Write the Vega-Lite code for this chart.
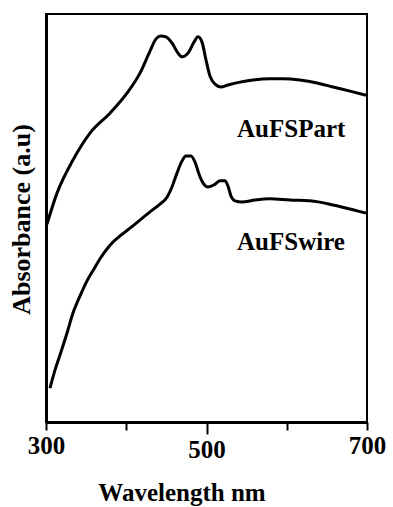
{
  "$schema": "https://vega.github.io/schema/vega-lite/v6.json",
  "width": 321,
  "height": 408,
  "autosize": "none",
  "padding": {"left": 46, "top": 14, "right": 26, "bottom": 85},
  "background": "white",
  "config": {
    "view": {"stroke": "black", "strokeWidth": 2},
    "font": "Liberation Serif"
  },
  "datasets": {
    "curves": [
      {"series": "AuFSPart", "wl": 301.2, "abs": 0.485},
      {"series": "AuFSPart", "wl": 313.7, "abs": 0.561},
      {"series": "AuFSPart", "wl": 333.6, "abs": 0.642},
      {"series": "AuFSPart", "wl": 354.8, "abs": 0.708},
      {"series": "AuFSPart", "wl": 379.7, "abs": 0.757},
      {"series": "AuFSPart", "wl": 400.9, "abs": 0.806},
      {"series": "AuFSPart", "wl": 417.1, "abs": 0.855},
      {"series": "AuFSPart", "wl": 429.6, "abs": 0.909},
      {"series": "AuFSPart", "wl": 437.1, "abs": 0.939},
      {"series": "AuFSPart", "wl": 443.3, "abs": 0.946},
      {"series": "AuFSPart", "wl": 449.5, "abs": 0.944},
      {"series": "AuFSPart", "wl": 457.0, "abs": 0.929},
      {"series": "AuFSPart", "wl": 464.5, "abs": 0.904},
      {"series": "AuFSPart", "wl": 469.5, "abs": 0.895},
      {"series": "AuFSPart", "wl": 477.0, "abs": 0.904},
      {"series": "AuFSPart", "wl": 484.4, "abs": 0.931},
      {"series": "AuFSPart", "wl": 489.4, "abs": 0.944},
      {"series": "AuFSPart", "wl": 494.4, "abs": 0.931},
      {"series": "AuFSPart", "wl": 499.4, "abs": 0.887},
      {"series": "AuFSPart", "wl": 504.3, "abs": 0.848},
      {"series": "AuFSPart", "wl": 510.6, "abs": 0.828},
      {"series": "AuFSPart", "wl": 518.0, "abs": 0.821},
      {"series": "AuFSPart", "wl": 526.8, "abs": 0.826},
      {"series": "AuFSPart", "wl": 541.7, "abs": 0.833},
      {"series": "AuFSPart", "wl": 558.0, "abs": 0.838},
      {"series": "AuFSPart", "wl": 579.0, "abs": 0.841},
      {"series": "AuFSPart", "wl": 595.3, "abs": 0.841},
      {"series": "AuFSPart", "wl": 616.5, "abs": 0.838},
      {"series": "AuFSPart", "wl": 637.7, "abs": 0.831},
      {"series": "AuFSPart", "wl": 657.6, "abs": 0.821},
      {"series": "AuFSPart", "wl": 678.8, "abs": 0.811},
      {"series": "AuFSPart", "wl": 698.7, "abs": 0.801},
      {"series": "AuFSwire", "wl": 305.0, "abs": 0.083},
      {"series": "AuFSwire", "wl": 311.2, "abs": 0.127},
      {"series": "AuFSwire", "wl": 317.4, "abs": 0.164},
      {"series": "AuFSwire", "wl": 326.2, "abs": 0.218},
      {"series": "AuFSwire", "wl": 333.6, "abs": 0.267},
      {"series": "AuFSwire", "wl": 342.4, "abs": 0.309},
      {"series": "AuFSwire", "wl": 351.1, "abs": 0.346},
      {"series": "AuFSwire", "wl": 359.8, "abs": 0.375},
      {"series": "AuFSwire", "wl": 367.3, "abs": 0.400},
      {"series": "AuFSwire", "wl": 376.0, "abs": 0.424},
      {"series": "AuFSwire", "wl": 383.5, "abs": 0.441},
      {"series": "AuFSwire", "wl": 392.2, "abs": 0.456},
      {"series": "AuFSwire", "wl": 404.7, "abs": 0.475},
      {"series": "AuFSwire", "wl": 417.1, "abs": 0.495},
      {"series": "AuFSwire", "wl": 429.6, "abs": 0.515},
      {"series": "AuFSwire", "wl": 442.0, "abs": 0.534},
      {"series": "AuFSwire", "wl": 450.8, "abs": 0.551},
      {"series": "AuFSwire", "wl": 457.0, "abs": 0.576},
      {"series": "AuFSwire", "wl": 463.2, "abs": 0.610},
      {"series": "AuFSwire", "wl": 469.5, "abs": 0.640},
      {"series": "AuFSwire", "wl": 474.4, "abs": 0.652},
      {"series": "AuFSwire", "wl": 480.7, "abs": 0.652},
      {"series": "AuFSwire", "wl": 485.7, "abs": 0.637},
      {"series": "AuFSwire", "wl": 490.6, "abs": 0.608},
      {"series": "AuFSwire", "wl": 495.6, "abs": 0.586},
      {"series": "AuFSwire", "wl": 501.9, "abs": 0.576},
      {"series": "AuFSwire", "wl": 509.3, "abs": 0.581},
      {"series": "AuFSwire", "wl": 516.8, "abs": 0.591},
      {"series": "AuFSwire", "wl": 523.0, "abs": 0.591},
      {"series": "AuFSwire", "wl": 526.8, "abs": 0.578},
      {"series": "AuFSwire", "wl": 530.5, "abs": 0.554},
      {"series": "AuFSwire", "wl": 535.5, "abs": 0.542},
      {"series": "AuFSwire", "wl": 544.2, "abs": 0.539},
      {"series": "AuFSwire", "wl": 560.4, "abs": 0.544},
      {"series": "AuFSwire", "wl": 579.1, "abs": 0.547},
      {"series": "AuFSwire", "wl": 604.0, "abs": 0.544},
      {"series": "AuFSwire", "wl": 629.0, "abs": 0.542},
      {"series": "AuFSwire", "wl": 657.6, "abs": 0.532},
      {"series": "AuFSwire", "wl": 678.8, "abs": 0.522},
      {"series": "AuFSwire", "wl": 698.7, "abs": 0.512}
    ],
    "labels": [
      {"label": "AuFSPart", "wl": 538.0, "abs": 0.6985},
      {"label": "AuFSwire", "wl": 538.0, "abs": 0.4216}
    ]
  },
  "layer": [
    {
      "data": {"name": "curves"},
      "mark": {"type": "line", "color": "black", "strokeWidth": 3, "interpolate": "monotone"},
      "encoding": {
        "x": {
          "field": "wl", "type": "quantitative",
          "scale": {"domain": [300, 700], "nice": false, "zero": false},
          "axis": {
            "title": "Wavelength nm",
            "values": [300, 400, 500, 600, 700],
            "labelExpr": "datum.value == 400 || datum.value == 600 ? '' : datum.label",
            "grid": false,
            "domainColor": "black", "domainWidth": 3,
            "tickColor": "black", "tickWidth": 2,
            "tickSize": {"condition": {"test": "datum.value == 500", "value": 12}, "value": 8},
            "labelPadding": 3,
            "labelFont": "Liberation Serif", "labelFontWeight": "bold", "labelFontSize": 25, "labelColor": "black",
            "labelFlush": false, "labelOverlap": false,
            "titleFont": "Liberation Serif", "titleFontWeight": "bold", "titleFontSize": 25, "titleColor": "black",
            "titleX": 135.5, "titleY": 78, "titleBaseline": "alphabetic", "titleAnchor": "middle", "titleAlign": "center"
          }
        },
        "y": {
          "field": "abs", "type": "quantitative",
          "scale": {"domain": [0, 1], "nice": false},
          "axis": {
            "title": "Absorbance (a.u)",
            "labels": false, "ticks": false, "grid": false,
            "domainColor": "black", "domainWidth": 3,
            "titleFont": "Liberation Serif", "titleFontWeight": "bold", "titleFontSize": 26, "titleColor": "black",
            "titleX": -17, "titleY": 205, "titleBaseline": "alphabetic", "titleAngle": -90, "titleAlign": "center"
          }
        },
        "detail": {"field": "series", "type": "nominal"}
      }
    },
    {
      "data": {"name": "labels"},
      "mark": {"type": "text", "align": "left", "baseline": "alphabetic", "font": "Liberation Serif", "fontWeight": "bold", "fontSize": 25, "color": "black"},
      "encoding": {
        "x": {"field": "wl", "type": "quantitative"},
        "y": {"field": "abs", "type": "quantitative"},
        "text": {"field": "label"}
      }
    }
  ]
}
